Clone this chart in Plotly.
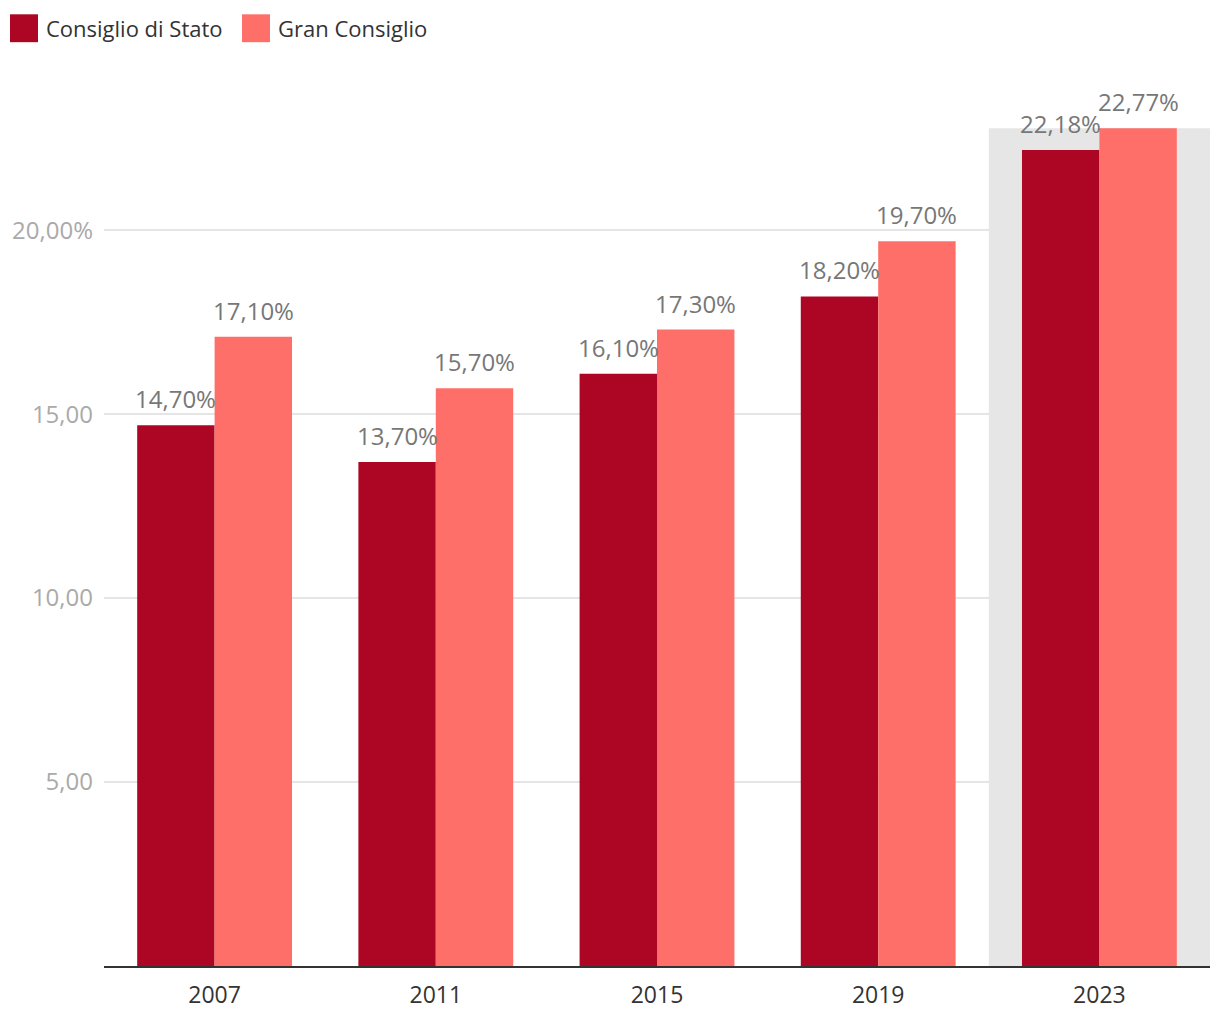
import plotly.graph_objects as go

years = ["2007", "2011", "2015", "2019", "2023"]
consiglio_stato = [14.70, 13.70, 16.10, 18.20, 22.18]
gran_consiglio = [17.10, 15.70, 17.30, 19.70, 22.77]
series_names = ["Consiglio di Stato", "Gran Consiglio"]
ytick_vals = [5, 10, 15, 20]
ytick_text = ["5,00", "10,00", "15,00", "20,00%"]
highlight_year = "2023"

# page body has an 8px margin on every side; keep the figure inside the window
OFF = 8
W, H = 1220 - 2 * OFF, 1020 - 2 * OFF
ML, MR, MT, MB = 104 - OFF, 2, 75, 42
BARGAP = 0.3
colors = ["#AD0624", "#FF6F69"]
FONT = "Open Sans"

ph = H - MT - MB
pw = W - ML - MR
cat_px = pw / len(years)
bar_px = cat_px * (1 - BARGAP) / 2

fig = go.Figure()
series = [consiglio_stato, gran_consiglio]
for k, (name, vals, col) in enumerate(zip(series_names, series, colors)):
    fig.add_trace(go.Bar(
        x=years, y=vals, name=name, marker_color=col, marker_line_width=0,
        showlegend=False, hoverinfo="x+y",
    ))
    shift = (k - 0.5) * bar_px
    for i, v in enumerate(vals):
        # category axis: annotation x given as category index
        fig.add_annotation(x=i, y=v, xref="x", yref="y", showarrow=False,
                           text=f"{v:.2f}%".replace(".", ","),
                           xanchor="center", yanchor="bottom",
                           xshift=shift, yshift=8,
                           font=dict(family=FONT, size=24, color="#777777"))

hi = years.index(highlight_year)
fig.add_shape(type="rect", xref="x", yref="y", x0=hi - 0.5, x1=hi + 0.5,
              y0=0, y1=max(consiglio_stato[hi], gran_consiglio[hi]),
              fillcolor="#E6E6E6", line_width=0, layer="between")

# custom legend (screen pixel positions converted to paper coordinates)
def px_x(p):
    return (p - OFF - ML) / pw
def px_y(p):
    return (H - MB - (p - OFF)) / ph

leg_items = [(10, 46), (242, 278)]
for (sx, tx), name, col in zip(leg_items, series_names, colors):
    fig.add_shape(type="rect", xref="paper", yref="paper",
                  x0=px_x(sx), x1=px_x(sx + 28), y0=px_y(42), y1=px_y(14),
                  fillcolor=col, line_width=0)
    fig.add_annotation(xref="paper", yref="paper", x=px_x(tx), y=px_y(28),
                       text=name, showarrow=False, xanchor="left", yanchor="middle",
                       xshift=-2,
                       font=dict(family=FONT, size=22, color="#333333"))

fig.update_layout(
    width=W, height=H, margin=dict(l=ML, r=MR, t=MT, b=MB),
    barmode="group", bargap=BARGAP, bargroupgap=0,
    plot_bgcolor="white", paper_bgcolor="white",
    separators=",.",
    font=dict(family=FONT),
    xaxis=dict(type="category", range=[-0.5, len(years) - 0.5],
               showline=True, linecolor="#333333", linewidth=2,
               showgrid=False, ticks="", ticklabelstandoff=7,
               tickfont=dict(family=FONT, size=23, color="#333333")),
    yaxis=dict(range=[0, 24], tickvals=ytick_vals, ticktext=ytick_text,
               showgrid=True, gridcolor="#E5E5E5", gridwidth=1.5, zeroline=False,
               ticks="", ticklabelstandoff=10,
               tickfont=dict(family=FONT, size=24, color="#AAAAAA")),
)

fig.write_html("out.html")
